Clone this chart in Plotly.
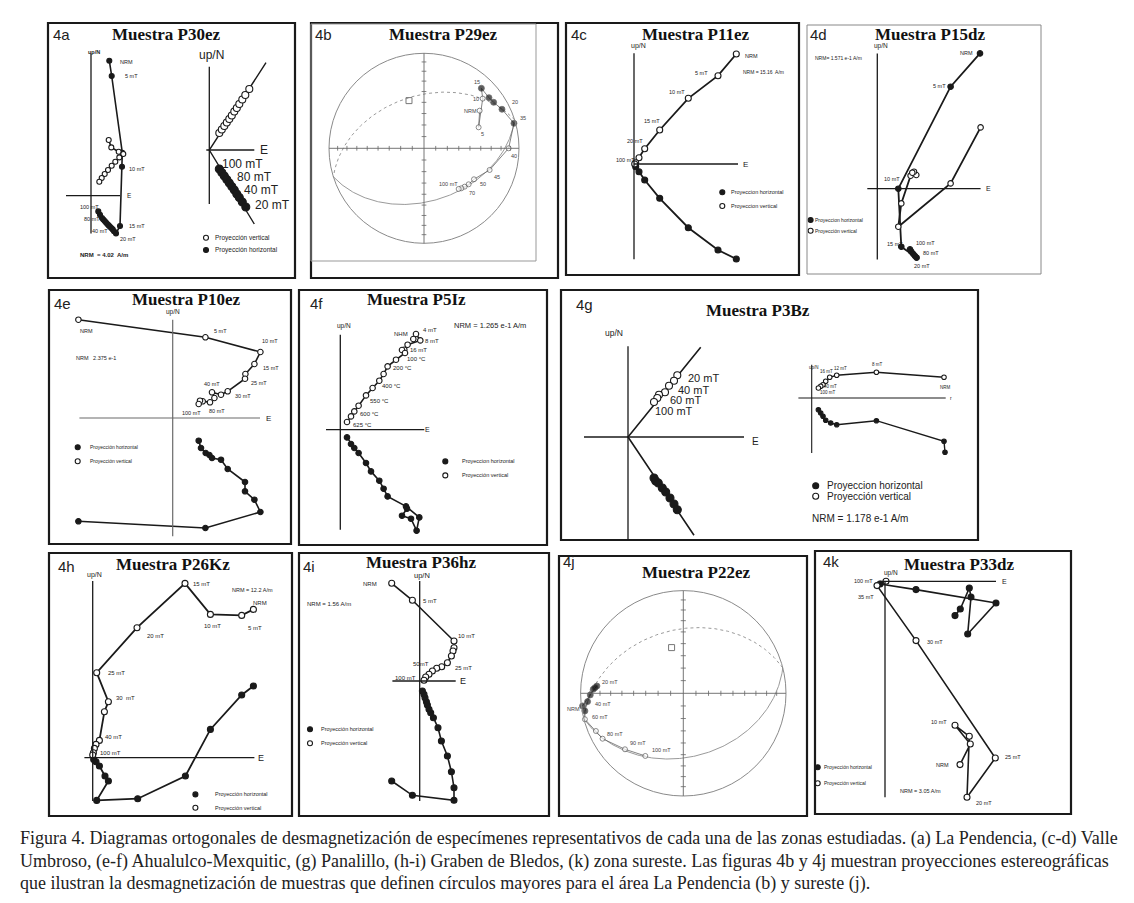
import numpy as np
import plotly.graph_objects as go

W, H = 1134, 903
SANS = "Liberation Sans, Arial, sans-serif"
SERIF = "Liberation Serif, Times New Roman, serif"
INK = "#1a1a1a"

# ===================== DATA =====================
# Orthogonal demagnetization diagrams: E component (x) vs N / Up component (y), plot units
# 4a P30ez (left diagram)
a1_hor_e = [18.3, 20.7, 31.3, 31.0, 29.0, 25.0, 23.0, 21.7, 20.3, 19.0, 17.7, 16.3, 15.0, 13.7, 12.3, 11.0, 9.0, 7.3]
a1_hor_n = [135.0, 119.7, 43.0, 29.0, -30.3, -37.7, -35.5, -33.7, -32.3, -31.0, -29.7, -28.3, -26.8, -25.3, -23.8, -22.3, -19.0, -15.7]
a1_ver_e = [17.7, 20.3, 27.7, 32.3, 28.3, 24.3, 20.7, 17.0, 13.7, 10.7, 8.3]
a1_ver_u = [55.7, 48.3, 44.0, 41.7, 38.3, 34.0, 30.0, 25.7, 21.7, 17.7, 14.0]
# 4a P30ez (right diagram)
a2_fit_e = [45.0, 0.0, 56.7]
a2_fit_n = [-74.0, 0.0, 87.3]
a2_ver_e = [10.0, 12.5, 15.0, 17.5, 20.0, 22.5, 25.0, 27.5, 30.0, 33.0, 36.0, 40.0]
a2_ver_u = [17.0, 20.5, 24.0, 27.5, 31.0, 34.5, 38.5, 42.0, 46.0, 50.5, 55.0, 61.0]
a2_hor_e = [10.0, 12.5, 15.0, 17.5, 20.0, 22.5, 25.0, 27.5, 30.0, 33.0, 36.5]
a2_hor_n = [-19.0, -22.5, -26.0, -29.5, -33.0, -36.5, -40.0, -44.0, -47.5, -52.0, -57.0]

# 4b P29ez stereonet (equal-area, unit radius)
b_steps = ["NRM", "5", "10", "15", "20", "25", "30", "35", "40", "45", "50", "60", "70", "80", "100"]
b_x = [0.586, 0.575, 0.618, 0.604, 0.684, 0.733, 0.821, 0.947, 0.891, 0.691, 0.526, 0.470, 0.428, 0.393, 0.365]
b_y = [0.396, 0.221, 0.523, 0.632, 0.533, 0.484, 0.411, 0.263, 0.000, -0.228, -0.326, -0.379, -0.404, -0.421, -0.428]
b_lower = [0, 0, 0, 1, 1, 1, 1, 1, 0, 0, 0, 0, 0, 0, 0]
b_pole = (-0.158, 0.502)

# 4c P11ez
c_ver_e = [102.3, 84.0, 54.3, 25.7, 10.7, 5.0, 1.7, 0.7]
c_ver_u = [110.0, 88.3, 65.7, 34.0, 15.3, 6.3, 1.3, 0.0]
c_hor_e = [102.3, 84.0, 54.3, 25.7, 10.7, 5.0, 1.7]
c_hor_n = [-95.0, -86.0, -63.7, -34.3, -16.0, -7.7, -2.7]

# 4d P15dz
d_hor_e = [102.7, 73.3, 21.0, 24.0, 39.3, 37.7, 36.0, 34.0, 32.7]
d_hor_n = [135.3, 102.0, 0.0, -58.0, -69.0, -67.3, -65.3, -63.0, -60.7]
d_ver_e = [103.3, 73.3, 21.0, 24.0, 33.3, 39.0, 36.7, 35.0]
d_ver_u = [61.3, 5.3, -38.0, -14.7, 13.0, 13.7, 17.0, 16.0]

# 4e P10ez
e_ver_e = [-94.3, 32.7, 87.7, 81.7, 72.7, 72.3, 55.0, 48.3, 39.3, 41.7, 37.3, 30.0, 27.3, 26.0]
e_ver_u = [98.3, 80.7, 66.0, 54.0, 44.0, 39.3, 26.7, 23.3, 25.7, 20.0, 15.7, 16.7, 17.3, 14.0]
e_hor_e = [-94.3, 32.7, 87.7, 81.7, 72.3, 72.3, 55.0, 48.3, 39.3, 36.7, 33.0, 28.3, 26.0]
e_hor_n = [-103.3, -110.0, -94.0, -81.7, -73.3, -64.0, -51.0, -41.7, -40.0, -37.0, -35.0, -30.0, -22.7]

# 4f P5Iz
f_ver_e = [73.0, 75.7, 80.0, 67.3, 64.0, 61.7, 64.7, 55.7, 47.3, 43.3, 39.0, 32.3, 25.7, 18.3, 14.0, 10.7, 6.7]
f_ver_u = [90.7, 95.7, 89.3, 85.0, 80.0, 79.7, 76.7, 70.0, 63.3, 55.7, 49.0, 41.7, 34.3, 24.0, 18.3, 13.3, 7.7]
f_hor_e = [6.7, 10.7, 14.0, 18.3, 25.7, 30.7, 39.0, 43.3, 47.3, 65.7, 79.0, 76.3, 70.7, 61.7, 66.7]
f_hor_n = [-7.7, -14.3, -18.3, -23.3, -33.3, -41.7, -51.0, -59.0, -66.7, -76.7, -87.7, -101.0, -89.0, -86.0, -79.0]

# 4g P3Bz (left diagram)
g1_fit_e = [66.0, 0.0, 72.7]
g1_fit_n = [-98.3, 0.0, 89.7]
g1_ver_e = [49.3, 46.0, 41.0, 37.0, 31.0, 29.3, 26.0]
g1_ver_u = [61.7, 56.3, 51.3, 44.7, 42.3, 39.0, 35.0]
g1_hor_e = [26.0, 27.7, 30.3, 34.3, 37.7, 42.0, 46.0, 49.3]
g1_hor_n = [-41.0, -44.0, -46.0, -51.0, -55.0, -61.0, -67.0, -72.7]
# 4g P3Bz (right diagram)
g2_ver_e = [132.3, 64.7, 25.0, 18.0, 14.0, 11.3, 9.0, 6.7]
g2_ver_u = [20.7, 25.7, 22.7, 20.7, 16.7, 13.3, 11.7, 10.0]
g2_hor_e = [133.3, 132.3, 64.7, 25.0, 19.0, 14.0, 11.3, 9.0, 6.7]
g2_hor_n = [-54.3, -43.3, -22.7, -26.7, -25.0, -22.3, -18.3, -15.0, -11.7]

# 4h P26Kz
h_ver_e = [160.7, 149.0, 117.7, 92.3, 44.3, 4.0, 15.7, 11.7, 6.7, 3.3, 1.7, 0.7, 0.0]
h_ver_u = [148.3, 142.3, 143.3, 174.3, 130.0, 85.0, 56.0, 46.0, 17.3, 13.3, 9.3, 5.0, 2.7]
h_hor_e = [160.7, 149.0, 117.7, 92.7, 45.0, 4.0, 15.7, 12.3, 6.7, 3.3, 1.0]
h_hor_n = [71.7, 62.7, 28.3, -18.3, -41.0, -42.7, -23.3, -18.3, -8.3, -4.0, -1.7]

# 4i P36hz
i_ver_e = [-28.0, -7.3, 34.3, 34.3, 33.3, 31.7, 27.7, 22.0, 17.0, 12.7, 9.3, 6.0, 4.3]
i_ver_u = [97.7, 80.7, 40.0, 33.3, 30.0, 25.0, 18.3, 14.3, 12.7, 10.0, 6.7, 4.0, 0.7]
i_hor_e = [-28.0, -7.3, 34.3, 34.3, 31.7, 27.7, 21.7, 18.3, 13.7, 11.0, 9.3, 7.7, 6.7, 5.3, 4.3, 2.7]
i_hor_n = [-100.0, -114.3, -119.3, -106.7, -90.7, -75.0, -60.0, -46.7, -36.7, -31.7, -28.3, -24.0, -20.7, -16.7, -13.3, -10.0]

# 4j P22ez stereonet
j_x = [-0.981, -0.877, -0.860, -0.841, -0.906, -0.932, -0.958, -0.958, -0.851, -0.786, -0.568, -0.370]
j_y = [-0.123, 0.039, 0.055, 0.071, -0.016, -0.081, -0.172, -0.253, -0.367, -0.442, -0.545, -0.610]
j_lower = [1, 1, 1, 1, 1, 1, 1, 0, 0, 0, 0, 0]
j_pole = (-0.114, 0.445)

# 4k P33dz
k_hor_e = [70.0, 75.3, 84.3, 86.0, 82.7, 111.0, 31.0, -5.0]
k_hor_n = [-34.3, -27.7, -6.7, -15.7, -52.7, -21.7, -8.3, -2.7]
k_ver_e = [75.0, 85.3, 70.0, 84.3, 82.0, 110.3, 31.0, -8.0, 1.0]
k_ver_u = [-183.3, -162.7, -144.0, -155.0, -216.0, -176.7, -59.3, -4.3, 0.0]

CAPTION = [
    "Figura 4. Diagramas ortogonales de desmagnetización de especímenes representativos de cada una de las zonas estudiadas. (a) La Pendencia, (c-d) Valle",
    "Umbroso, (e-f) Ahualulco-Mexquitic, (g) Panalillo, (h-i) Graben de Bledos, (k) zona sureste. Las figuras 4b y 4j muestran proyecciones estereográficas",
    "que ilustran la desmagnetización de muestras que definen círculos mayores para el área La Pendencia (b) y sureste (j).",
]

# ===================== FIGURE =====================
fig = go.Figure()
_n = [0]


def make_axes(box, xr, yr):
    _n[0] += 1
    s = "" if _n[0] == 1 else str(_n[0])
    l, t, r, b = box
    fig.update_layout({
        "xaxis" + s: dict(domain=[l / W, r / W], range=xr, visible=False, fixedrange=True, anchor="y" + s),
        "yaxis" + s: dict(domain=[1 - b / H, 1 - t / H], range=yr, visible=False, fixedrange=True, anchor="x" + s),
    })
    return "x" + s, "y" + s


def zij_axes(box, origin):
    l, t, r, b = box
    ox, oy = origin
    return make_axes(box, [l - ox, r - ox], [oy - b, oy - t])


def net_axes(box, center, R):
    l, t, r, b = box
    cx, cy = center
    return make_axes(box, [(l - cx) / R, (r - cx) / R], [(cy - b) / R, (cy - t) / R])


def cross(ax, vr, hr, color=INK, w=1.3):
    xa, ya = ax
    fig.add_shape(type="line", xref=xa, yref=ya, x0=hr[0], x1=hr[1], y0=0, y1=0, line=dict(color=color, width=w))
    fig.add_shape(type="line", xref=xa, yref=ya, x0=0, x1=0, y0=vr[0], y1=vr[1], line=dict(color=color, width=w))


def series(ax, xs, ys, filled, size=6, lw=1.6, color=INK, mode="lines+markers", olw=1.1):
    xa, ya = ax
    fig.add_trace(go.Scatter(
        x=xs, y=ys, xaxis=xa, yaxis=ya, mode=mode, cliponaxis=False,
        line=dict(color=color, width=lw),
        marker=dict(size=size, color=INK if filled else "white", line=dict(color=INK, width=olw)),
        showlegend=False, hoverinfo="skip"))


def txt(ax, x, y, s, size=6, anchor="left", family=SANS, color="#222"):
    xa, ya = ax if ax else ("paper", "paper")
    fig.add_annotation(xref=xa, yref=ya, x=x, y=y, text=s, showarrow=False, xanchor=anchor,
                       yanchor="middle", font=dict(size=size, family=family, color=color), borderpad=0)


def labels(ax, items, size=6, anchor="left"):
    for s, x, y in items:
        txt(ax, x, y, s, size=size, anchor=anchor)


def legend(ax, items, msize=5, fsize=6, dx=8):
    for filled, x, y, s in items:
        series(ax, [x], [y], filled, size=msize, mode="markers")
        txt(ax, x + dx, y, s, size=fsize)


def px(x, y):
    return x / W, 1 - y / H


def panel(box, letter, lpos, title, tpos, border=INK, bw=2.2, lsize=15, tsize=17):
    l, t, r, b = box
    fig.add_shape(type="rect", xref="paper", yref="paper", x0=l / W, x1=r / W, y0=1 - b / H, y1=1 - t / H,
                  line=dict(color=border, width=bw))
    x, y = px(*lpos)
    txt(None, x, y, letter, size=lsize, anchor="center", color="#222")
    x, y = px(*tpos)
    fig.add_annotation(xref="paper", yref="paper", x=x, y=y, text="<b>" + title + "</b>", showarrow=False,
                       xanchor="center", yanchor="middle", font=dict(size=tsize, family=SERIF, color="#111"))


def proj(P):
    x, y, z = P[:, 0], P[:, 1], P[:, 2]
    hh = np.hypot(x, y)
    hh[hh < 1e-9] = 1e-9
    rr = np.sqrt(1 - np.abs(z))
    return x / hh * rr, y / hh * rr


def stereonet(ax, pole, px_, py_, lower):
    xa, ya = ax
    fig.add_shape(type="circle", xref=xa, yref=ya, x0=-1, x1=1, y0=-1, y1=1, line=dict(color="#8a8a8a", width=1))
    cross(ax, [-1, 1], [-1, 1], color="#666", w=0.9)
    # equal-area tick marks every 10 degrees
    tx, ty = [], []
    for inc in range(10, 90, 10):
        r = np.sqrt(1 - np.sin(np.radians(inc)))
        for sgn in (-1, 1):
            tx += [sgn * r, sgn * r, None, -0.025, 0.025, None]
            ty += [-0.025, 0.025, None, sgn * r, sgn * r, None]
    fig.add_trace(go.Scatter(x=tx, y=ty, xaxis=xa, yaxis=ya, mode="lines", line=dict(color="#666", width=0.8),
                             showlegend=False, hoverinfo="skip"))
    # great circle from its pole
    pxp, pyp = pole
    r = np.hypot(pxp, pyp)
    z = 1 - r ** 2
    h = np.sqrt(1 - z ** 2)
    p = np.array([pxp / r * h, pyp / r * h, z])
    u = np.cross(p, [0, 0, 1.0])
    u /= np.linalg.norm(u)
    v = np.cross(p, u)
    for t0, t1 in ((0, np.pi), (np.pi, 2 * np.pi)):
        t = np.linspace(t0, t1, 181)
        P = np.outer(np.cos(t), u) + np.outer(np.sin(t), v)
        gx, gy = proj(P)
        down = P[90, 2] > 0
        fig.add_trace(go.Scatter(x=gx, y=gy, xaxis=xa, yaxis=ya, mode="lines",
                                 line=dict(color="#9a9a9a", width=1, dash="solid" if down else "dot"),
                                 showlegend=False, hoverinfo="skip"))
    fig.add_trace(go.Scatter(x=[pxp], y=[pyp], xaxis=xa, yaxis=ya, mode="markers",
                             marker=dict(symbol="square-open", size=6, color="#777", line=dict(width=1)),
                             showlegend=False, hoverinfo="skip"))
    fig.add_trace(go.Scatter(x=px_, y=py_, xaxis=xa, yaxis=ya, mode="lines", line=dict(color="#666", width=0.8),
                             showlegend=False, hoverinfo="skip", cliponaxis=False))
    fig.add_trace(go.Scatter(x=px_, y=py_, xaxis=xa, yaxis=ya, mode="markers", cliponaxis=False,
                             marker=dict(size=[6 if lw else 5 for lw in lower],
                                         color=[INK if lw else "white" for lw in lower],
                                         line=dict(color="#333", width=0.8)),
                             showlegend=False, hoverinfo="skip"))


# ---------------- 4a ----------------
box = (40, 15, 287, 270)
panel(box, "4a", (53, 27), "Muestra P30ez", (158, 27))
axL = zij_axes(box, (83, 187.7))
cross(axL, [-37.7, 142.3], [-25, 29])
series(axL, a1_hor_e, a1_hor_n, True, size=5)
series(axL, a1_ver_e, a1_ver_u, False, size=5)
txt(axL, 3.3, 144, "<b>up/N</b>", size=5.5, anchor="center")
txt(axL, 38.3, 0, "E", size=6.5, anchor="center")
labels(axL, [("NRM", 27.7, 133.3), ("5 mT", 33.3, 119.7), ("10 mT", 36.7, 26.3), ("15 mT", 36.7, -30.3),
             ("20 mT", 27.7, -43.3), ("100 mT", -12.3, -11.7), ("80 mT", -8.3, -23.7), ("40 mT", 0, -35)], size=5.5)
txt(axL, -11.7, -59.3, "<b>NRM  = 4.02  A/m</b>", size=6)
axR = zij_axes(box, (201.3, 142))
cross(axR, [-54, 83.3], [-3, 45])
fig.add_trace(go.Scatter(x=a2_fit_e, y=a2_fit_n, xaxis=axR[0], yaxis=axR[1], mode="lines",
                         line=dict(color=INK, width=1.4), showlegend=False, hoverinfo="skip"))
series(axR, a2_ver_e, a2_ver_u, False, size=7, lw=0)
series(axR, a2_hor_e, a2_hor_n, True, size=8, lw=0)
txt(axR, 1.7, 95, "up/N", size=12, anchor="center")
txt(axR, 55, 0, "E", size=12, anchor="center")
labels(axR, [("100 mT", 11.7, -14), ("80 mT", 26.7, -26.7), ("40 mT", 33.3, -40), ("20 mT", 45, -55)], size=12)
legend(axR, [(False, -3.3, -87.7, "Proyección vertical"), (True, -3.3, -100, "Proyección horizontal")],
       msize=5, fsize=6.5, dx=8)

# ---------------- 4b ----------------
box = (303, 15, 550, 270)
panel(box, "4b", (315, 27), "Muestra P29ez", (435, 27))
fig.add_shape(type="rect", xref="paper", yref="paper", x0=303 / W, x1=528 / W, y0=1 - 253 / H, y1=1 - 16 / H,
              line=dict(color="#999", width=1))
axB = net_axes(box, (416, 140.3), 95)
stereonet(axB, b_pole, b_x, b_y, b_lower)
for s, x, y in [("15", 0.516, 0.702), ("10", 0.509, 0.519), ("NRM", 0.411, 0.396), ("5", 0.586, 0.151),
                ("20", 0.912, 0.491), ("35", 0.996, 0.323), ("40", 0.902, -0.081), ("45", 0.730, -0.298),
                ("50", 0.575, -0.379), ("70", 0.463, -0.467), ("100 mT", 0.147, -0.375)]:
    txt(axB, x, y, s, size=5.5, color="#444")

# ---------------- 4c ----------------
box = (558, 15, 791, 267)
panel(box, "4c", (571, 27), "Muestra P11ez", (687.5, 27))
axC = zij_axes(box, (626, 156))
cross(axC, [-95.3, 110.7], [0, 104])
series(axC, c_hor_e, c_hor_n, True, size=6, lw=1.8)
series(axC, c_ver_e, c_ver_u, False, size=6, lw=1.8)
txt(axC, 4, 118, "up/N", size=7, anchor="center")
txt(axC, 111, 0, "E", size=8, anchor="center")
labels(axC, [("NRM", 110, 108), ("5 mT", 60, 91.3), ("10 mT", 34.3, 71.7), ("15 mT", 9, 43.3),
             ("20 mT", -7.7, 23.3), ("100 mT", -19.3, 4)], size=5.5)
txt(axC, 108.3, 92.3, "NRM = 15.16  A/m", size=5)
legend(axC, [(True, 88.3, -28.3, "Proyeccion horizontal"), (False, 88.3, -42, "Proyeccion vertical")],
       msize=5, fsize=5.5, dx=8)

# ---------------- 4d ----------------
box = (799, 17, 1033, 266)
panel(box, "4d", (810, 27), "Muestra P15dz", (922, 26), border="#888", bw=1)
axD = zij_axes(box, (869.3, 180.7))
cross(axD, [-70.7, 135.3], [-10, 103.3])
series(axD, d_hor_e, d_hor_n, True, size=5.5, lw=1.8)
series(axD, d_ver_e, d_ver_u, False, size=5.5, lw=1.8)
txt(axD, 3.3, 142.7, "up/N", size=6.5, anchor="center")
txt(axD, 111, 0, "E", size=7, anchor="center")
labels(axD, [("NRM", 82, 135.3), ("5 mT", 54.3, 102.7), ("10 mT", 5.3, 9.3), ("15 mT", 8.3, -55.3),
             ("100 mT", 37.3, -54), ("80 mT", 45, -64), ("20 mT", 36, -77.3)], size=5.5)
txt(axD, -63.3, 130.3, "NRM= 1.571 e-1 A/m", size=5)
legend(axD, [(True, -66.7, -31.3, "Proyeccion horizontal"), (False, -66.7, -42, "Proyección vertical")],
       msize=5, fsize=5, dx=3.5)

# ---------------- 4e ----------------
box = (41, 282, 283, 536)
panel(box, "4e", (54.7, 295), "Muestra P10ez", (178, 291.7))
axE = zij_axes(box, (164.7, 410))
cross(axE, [-118.3, 98.3], [-93.3, 87.3], color="#6a6a6a", w=1.2)
series(axE, e_hor_e, e_hor_n, True, size=5.5, lw=1.6)
series(axE, e_ver_e, e_ver_u, False, size=5.5, lw=1.6)
txt(axE, 0, 106, "up/N", size=6.5, anchor="center")
txt(axE, 96, 0, "E", size=8, anchor="center")
labels(axE, [("NRM", -93.3, 87.3), ("5 mT", 40, 86.7), ("10 mT", 88.3, 76.7), ("15 mT", 89.3, 50),
             ("25 mT", 77.3, 35), ("40 mT", 30.7, 34.3), ("30 mT", 61.7, 21.7), ("80 mT", 35.7, 7.3),
             ("100 mT", 8.3, 5), ("NRM   2.375 e-1", -97.3, 60)], size=5.5)
legend(axE, [(True, -95, -29.3, "Proyección horizontal"), (False, -95, -43.3, "Proyección vertical")],
       msize=5, fsize=5, dx=11)

# ---------------- 4f ----------------
box = (291, 282, 539, 537)
panel(box, "4f", (308.7, 295), "Muestra P5Iz", (408, 291.7))
axF = zij_axes(box, (332.3, 421.7))
cross(axF, [-100, 95], [-14.3, 84])
series(axF, f_hor_e, f_hor_n, True, size=5.5, lw=1.6)
series(axF, f_ver_e, f_ver_u, False, size=5.5, lw=1.6)
txt(axF, 4, 103.3, "up/N", size=6.5, anchor="center")
txt(axF, 87.3, 0, "E", size=7, anchor="center")
labels(axF, [("NHM", 52.3, 96), ("4 mT", 81.3, 100), ("8 mT", 84, 89), ("16 mT", 69, 79.3),
             ("100 °C", 65.7, 71), ("200 °C", 51.3, 61.7), ("400 °C", 40.7, 44), ("550 °C", 28.3, 28.3),
             ("600 °C", 19, 15.7), ("625 °C", 11.7, 5)], size=6)
txt(axF, 112.3, 104, "NRM = 1.265 e-1 A/m", size=7.5)
legend(axF, [(True, 105, -31.7, "Proyeccion horizontal"), (False, 105, -45.7, "Proyección vertical")],
       msize=5, fsize=5.5, dx=15.7)

# ---------------- 4g ----------------
box = (553, 282, 970, 532)
panel(box, "4g", (576, 296.7), "Muestra P3Bz", (750, 302.7))
axG1 = zij_axes(box, (620, 429))
cross(axG1, [-103, 90.7], [-44, 116])
fig.add_trace(go.Scatter(x=g1_fit_e, y=g1_fit_n, xaxis=axG1[0], yaxis=axG1[1], mode="lines",
                         line=dict(color=INK, width=1.6), showlegend=False, hoverinfo="skip"))
series(axG1, g1_ver_e, g1_ver_u, False, size=7, lw=0)
series(axG1, g1_hor_e, g1_hor_n, True, size=8, lw=0)
txt(axG1, -14, 104, "up/N", size=8.5, anchor="center")
txt(axG1, 127.7, -4.3, "E", size=10, anchor="center")
labels(axG1, [("20 mT", 59.3, 59), ("40 mT", 49.3, 47.3), ("60 mT", 41, 36.7), ("100 mT", 26, 25.7)], size=11)
axG2 = zij_axes(box, (803.7, 390))
cross(axG2, [-55, 33.3], [-13.3, 134], w=1.1)
series(axG2, g2_hor_e, g2_hor_n, True, size=4.5, lw=1.4)
series(axG2, g2_ver_e, g2_ver_u, False, size=4.5, lw=1.4)
labels(axG2, [("up/N", 2.3, 30.7), ("NRM", 134, 10.7), ("8 mT", 65.7, 34), ("12 mT", 29, 29.3),
              ("16 mT", 15, 26.7), ("40 mT", 19, 11.3), ("100 mT", 16.7, 6)], size=4.5, anchor="center")
txt(axG2, 139, 0, "r", size=5, anchor="center")
legend(axG2, [(True, 4, -87.7, "Proyeccion horizontal"), (False, 4, -98.3, "Proyección vertical")],
       msize=6, fsize=10, dx=10)
txt(axG2, -1, -120, "NRM = 1.178 e-1 A/m", size=10)

# ---------------- 4h ----------------
box = (41, 545, 284, 808)
panel(box, "4h", (58.7, 558), "Muestra P26Kz", (164.7, 556.3))
axH = zij_axes(box, (84.7, 749.7))
cross(axH, [-43.3, 176.7], [-8.3, 161.7])
series(axH, h_hor_e, h_hor_n, True, size=6, lw=1.8)
series(axH, h_ver_e, h_ver_u, False, size=6, lw=1.8)
txt(axH, 1.7, 182.7, "up/N", size=7, anchor="center")
txt(axH, 168.3, 0, "E", size=9, anchor="center")
labels(axH, [("15 mT", 99, 173.3), ("NRM", 159, 155), ("10 mT", 110, 131.7), ("5 mT", 154.3, 130),
             ("20 mT", 53.3, 121.7), ("25 mT", 14, 85), ("30  mT", 22.3, 60), ("40 mT", 11, 20.7),
             ("100 mT", 6.7, 5)], size=6)
txt(axH, 138.3, 167.3, "NRM = 12.2 A/m", size=5.5)
legend(axH, [(True, 102.7, -36.7, "Proyección horizontal"), (False, 102.7, -50, "Proyección vertical")],
       msize=5, fsize=5.5, dx=19)

# ---------------- 4i ----------------
box = (291, 545, 541, 808)
panel(box, "4i", (301, 558), "Muestra P36hz", (412.7, 554.7))
axI = zij_axes(box, (411.7, 673))
cross(axI, [-120, 100], [-27.3, 36])
series(axI, i_hor_e, i_hor_n, True, size=6, lw=1.6)
series(axI, i_ver_e, i_ver_u, False, size=6, lw=1.6)
txt(axI, 2.7, 106, "up/N", size=7.5, anchor="center")
txt(axI, 43.3, 0, "E", size=9, anchor="center")
labels(axI, [("NRM", -57.3, 96.7), ("5 mT", 2.7, 80), ("10 mT", 37.7, 45), ("50mT", -8, 16.7),
             ("25 mT", 34.3, 13.3), ("100 mT", -25.7, 3.3), ("NRM = 1.56 A/m", -114, 76.7)], size=6)
legend(axI, [(True, -109.7, -48.3, "Proyección horizontal"), (False, -109.7, -62.3, "Proyección vertical")],
       msize=5, fsize=5.5, dx=10)

# ---------------- 4j ----------------
box = (551, 548, 799, 808)
panel(box, "4j", (561.3, 553), "Muestra P22ez", (688, 564.7))
axJ = net_axes(box, (675.3, 685.3), 102.7)
stereonet(axJ, j_pole, j_x, j_y, j_lower)
for s, x, y in [("20 mT", -0.802, 0.110), ("40 mT", -0.867, -0.101), ("NRM", -1.143, -0.156),
                ("60 mT", -0.899, -0.227), ("80 mT", -0.753, -0.399), ("90 mT", -0.526, -0.481),
                ("100 mT", -0.315, -0.555)]:
    txt(axJ, x, y, s, size=5.5, color="#444")

# ---------------- 4k ----------------
box = (807, 543, 1063, 806)
panel(box, "4k", (823, 553.3), "Muestra P33dz", (951, 556))
axK = zij_axes(box, (877, 573.3))
cross(axK, [-216, 0], [-5.7, 111])
series(axK, k_hor_e, k_hor_n, True, size=6, lw=1.6)
series(axK, k_ver_e, k_ver_u, False, size=6, lw=1.6)
txt(axK, 6, 8.3, "up/N", size=6.5, anchor="center")
txt(axK, 119.3, 0, "E", size=7, anchor="center")
labels(axK, [("100 mT", -32.3, 0), ("35 mT", -28, -15.7), ("30 mT", 41, -60.7), ("10 mT", 45, -140.7),
             ("25 mT", 118.7, -175.7), ("NRM", 50, -184), ("NRM = 3.05 A/m", 13.7, -209.3),
             ("20 mT", 90.3, -221.7)], size=5.5)
legend(axK, [(True, -67.3, -186, "Proyección horizontal"), (False, -67.3, -202, "Proyección vertical")],
       msize=5, fsize=5, dx=5)

# ---------------- caption ----------------
for line, yy in zip(CAPTION, (830, 853, 875)):
    x, y = px(10, yy)
    fig.add_annotation(xref="paper", yref="paper", x=x, y=y, text=line, showarrow=False, xanchor="left",
                       yanchor="middle", font=dict(size=18, family=SERIF, color="#222"))

fig.update_layout(width=W, height=H, margin=dict(l=0, r=0, t=0, b=0), paper_bgcolor="white",
                  plot_bgcolor="rgba(0,0,0,0)", showlegend=False)
fig.write_html("out.html")
